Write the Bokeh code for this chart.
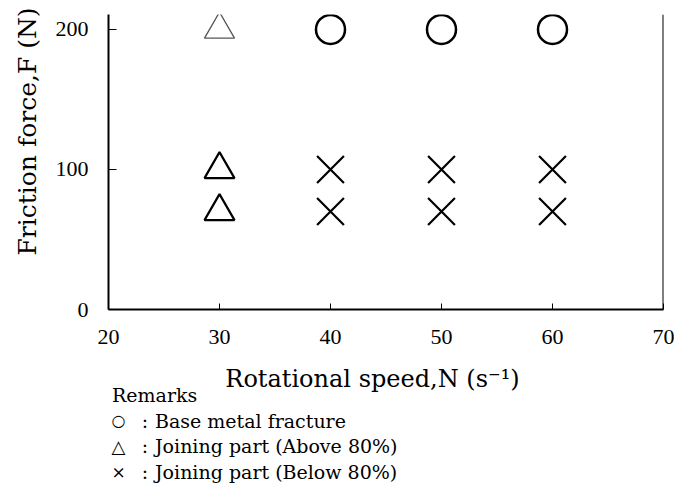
import math
from bokeh.plotting import figure
from bokeh.layouts import row, column
from bokeh.models import Range1d, FixedTicker, Span, Label
from bokeh.embed import file_html
from bokeh.resources import INLINE

# ---- data ----
circle_speed = [40, 50, 60]
circle_force = [200, 200, 200]
tri_speed = [30, 30]
tri_force = [100, 70]
tri_light_speed = [30]
tri_light_force = [200]
cross_speed = [40, 50, 60, 40, 50, 60]
cross_force = [100, 100, 100, 70, 70, 70]

x_ticks = [20, 30, 40, 50, 60, 70]
y_ticks = [0, 100, 200]

x_title = "Rotational speed,N (s\u207b\u00b9)"
y_title = "Friction force,F (N)"
remarks_title = "Remarks"
remark_symbols = ["\u25cb", "\u25b3", "\u00d7"]
remark_texts = ["Base metal fracture", "Joining part (Above 80%)", "Joining part (Below 80%)"]

SERIF = "DejaVu Serif"
TICKFONT = "Liberation Serif"


def blank(width, height):
    f = figure(width=width, height=height, output_backend="svg", toolbar_location=None,
               x_axis_location=None, y_axis_location=None,
               x_range=Range1d(0, 1), y_range=Range1d(0, 1),
               min_border=0, min_border_left=0, min_border_right=0,
               min_border_top=0, min_border_bottom=0)
    f.outline_line_color = None
    f.grid.visible = False
    return f


# ---- main chart ----
p = figure(width=629, height=360, output_backend="svg", toolbar_location=None,
           x_range=Range1d(20, 70), y_range=Range1d(0, 210.7),
           min_border_left=63, min_border_right=11, min_border_top=14,
           min_border_bottom=51)
p.outline_line_color = None
p.xgrid.visible = False
p.ygrid.visible = False

for ax in (p.xaxis[0], p.yaxis[0]):
    ax.axis_line_width = 2
    ax.axis_line_color = "black"
    ax.major_tick_out = 0
    ax.major_tick_line_color = "black"
    ax.major_tick_line_width = 1
    ax.minor_tick_line_color = None
    ax.major_label_text_font = TICKFONT
    ax.major_label_text_font_size = "22px"
    ax.major_label_text_color = "black"

p.xaxis[0].ticker = FixedTicker(ticks=x_ticks)
p.yaxis[0].ticker = FixedTicker(ticks=y_ticks)
p.xaxis[0].major_tick_in = 6
p.yaxis[0].major_tick_in = 8
p.xaxis[0].major_label_standoff = 20
p.yaxis[0].major_label_standoff = 20

# right border line
p.add_layout(Span(location=70, dimension="height", line_color="black", line_width=2))

# markers
p.scatter(circle_speed, circle_force, marker="circle", size=29, fill_color=None,
          line_color="black", line_width=2.5)
p.scatter(tri_speed, tri_force, marker="triangle", size=30, fill_color=None,
          line_color="black", line_width=2.2)
p.scatter(tri_light_speed, tri_light_force, marker="triangle", size=30, fill_color=None,
          line_color="#555555", line_width=1.3)
p.scatter(cross_speed, cross_force, marker="x", size=38, line_color="black", line_width=2.2)

# ---- y title strip (left) ----
fy = blank(45, 487)
fy.add_layout(Label(x=27, y=356, x_units="screen", y_units="screen", text=y_title,
                    angle=math.pi / 2, text_font=SERIF, text_font_size="25px",
                    text_align="center", text_baseline="middle", text_color="black"))

# ---- x title and remarks strip (below) ----
fb = blank(629, 127)
fb.add_layout(Label(x=264, y=109, x_units="screen", y_units="screen", text=x_title,
                    text_font=SERIF, text_font_size="24px", text_align="center",
                    text_baseline="alphabetic", text_color="black"))
fb.add_layout(Label(x=3.5, y=93, x_units="screen", y_units="screen", text=remarks_title,
                    text_font=SERIF, text_font_size="19px", text_baseline="alphabetic",
                    text_color="black"))
sym_fonts = [("DejaVu Sans", "16px"), ("DejaVu Sans", "18px"), (SERIF, "17px")]
for i, (sym, txt) in enumerate(zip(remark_symbols, remark_texts)):
    yb = 67 - 25.5 * i
    fnt, fsz = sym_fonts[i]
    fb.add_layout(Label(x=10, y=yb, x_units="screen", y_units="screen", text=sym,
                        text_font=fnt, text_font_size=fsz, text_align="center",
                        text_baseline="alphabetic", text_color="black"))
    fb.add_layout(Label(x=36.5, y=yb, x_units="screen", y_units="screen", text=":",
                        text_font=SERIF, text_font_size="19px", text_align="center",
                        text_baseline="alphabetic", text_color="black"))
    fb.add_layout(Label(x=46.5, y=yb, x_units="screen", y_units="screen", text=txt,
                        text_font=SERIF, text_font_size="19px",
                        text_baseline="alphabetic", text_color="black"))

layout = row(fy, column(p, fb, spacing=0), spacing=0)

open("out.html", "w").write(file_html(layout, INLINE))
